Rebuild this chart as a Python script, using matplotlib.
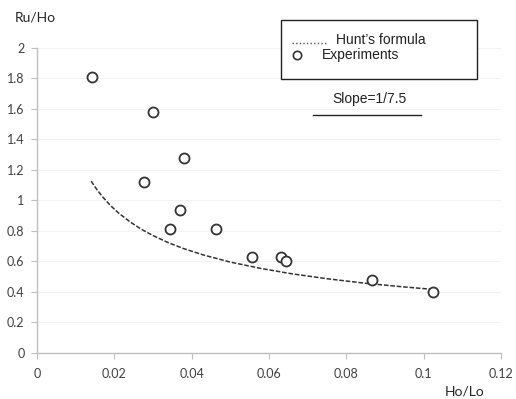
import matplotlib
matplotlib.use("Agg")
import matplotlib.pyplot as plt
from matplotlib.lines import Line2D
from matplotlib.patches import Rectangle

# experiments (Ho/Lo, Ru/Ho)
exp_x = [0.0142, 0.0301, 0.0380, 0.0278, 0.0371, 0.0344, 0.0464, 0.0557, 0.0631, 0.0644, 0.0867, 0.1025]
exp_y = [1.81, 1.58, 1.28, 1.12, 0.94, 0.81, 0.81, 0.63, 0.63, 0.60, 0.48, 0.40]

# Hunt's formula curve
hunt_x = [0.0140, 0.0155, 0.017, 0.019, 0.021, 0.024, 0.027, 0.030, 0.034, 0.038, 0.043,
          0.050, 0.058, 0.066, 0.075, 0.085, 0.095, 0.102]
hunt_y = [1.127, 1.071, 1.023, 0.967, 0.920, 0.861, 0.811, 0.770, 0.723, 0.684, 0.643,
          0.596, 0.554, 0.519, 0.487, 0.457, 0.433, 0.418]

x_ticks = [0, 0.02, 0.04, 0.06, 0.08, 0.1, 0.12]
y_ticks = [0, 0.2, 0.4, 0.6, 0.8, 1, 1.2, 1.4, 1.6, 1.8, 2]

tick_font = "Lato"
text_font = "Liberation Sans"
W, H = 516, 399


def fx(px):
    return px / W


def fy(py):
    return 1 - py / H


fig = plt.figure(figsize=(5.16, 3.99), dpi=100)
ax = fig.add_axes([0.0717, 0.1153, 0.8993, 0.7644])

ax.plot(hunt_x, hunt_y, linestyle=(0, (3, 1.2)), color="#333333", linewidth=1.1)
ax.plot(exp_x, exp_y, linestyle="none", marker="o", markersize=7.2,
        markerfacecolor="white", markeredgecolor="#333333", markeredgewidth=1.3)

ax.set_xlim(0, 0.12)
ax.set_ylim(0, 2)
ax.set_xticks(x_ticks)
ax.set_yticks(y_ticks)
ax.set_xticklabels(["%g" % v for v in x_ticks], fontfamily=tick_font, fontsize=9, color="#404040")
ax.set_yticklabels(["%g" % v for v in y_ticks], fontfamily=tick_font, fontsize=9, color="#404040")
ax.tick_params(axis="both", length=4, width=0.8, color="#bfbfbf", pad=5)
ax.tick_params(axis="x", pad=7)

for s in ["top", "right"]:
    ax.spines[s].set_visible(False)
for s in ["left", "bottom"]:
    ax.spines[s].set_color("#bfbfbf")
    ax.spines[s].set_linewidth(1.0)

ax.yaxis.grid(True, color="#f3f3f3", linewidth=0.8)
ax.set_axisbelow(True)

fig.text(fx(35), fy(17), "Ru/Ho", ha="center", va="center",
         fontfamily=tick_font, fontsize=10, color="#262626")
fig.text(fx(465), fy(391), "Ho/Lo", ha="center", va="center",
         fontfamily=tick_font, fontsize=10, color="#262626")

# legend box drawn by hand (spreadsheet-style layout)
fig.add_artist(Rectangle((fx(281), fy(79)), fx(477) - fx(281), fy(20) - fy(79),
                         transform=fig.transFigure, facecolor="white",
                         edgecolor="#222222", linewidth=1.0))
fig.add_artist(Line2D([fx(292), fx(327)], [fy(43), fy(43)], linestyle=(0, (1, 1.6)),
                      color="#555555", linewidth=1.0))
fig.text(fx(336), fy(40), "Hunt\u2019s formula", ha="left", va="center",
         fontfamily=text_font, fontsize=10, color="#222222")
fig.add_artist(Line2D([fx(297)], [fy(55)], linestyle="none", marker="o", markersize=6,
                      markerfacecolor="white", markeredgecolor="#333333", markeredgewidth=1.2))
fig.text(fx(322), fy(55), "Experiments", ha="left", va="center",
         fontfamily=text_font, fontsize=10, color="#222222")

fig.text(fx(369), fy(99), "Slope=1/7.5", ha="center", va="center",
         fontfamily=text_font, fontsize=10, color="#222222")
fig.add_artist(Line2D([fx(313), fx(421)], [fy(115), fy(115)],
                      color="#222222", linewidth=1.0))

fig.savefig("out.png", dpi=100)
